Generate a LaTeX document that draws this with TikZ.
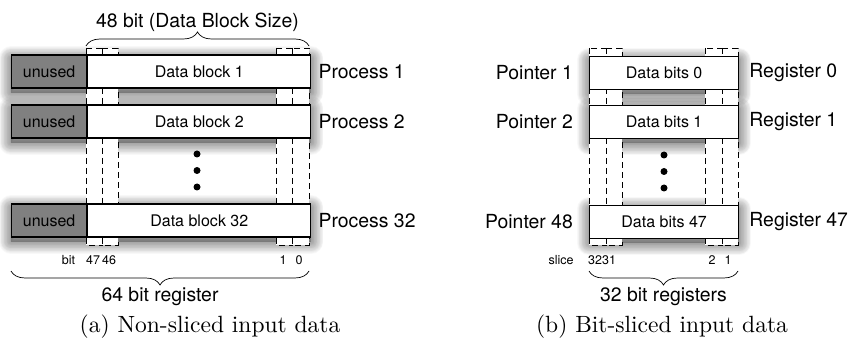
\documentclass[tikz,border=0pt]{standalone}
\usepackage{fontspec}
\setsansfont{TeX Gyre Heros}
\newfontfamily\capfont{lmroman10-regular}[Extension=.otf]
\usetikzlibrary{positioning, calc, decorations.pathreplacing}
\pgfdeclarelayer{background}
\pgfsetlayers{background,main}

\tikzset{
    block/.style={draw, line width=1.2pt, fill=white, minimum height=33pt, inner sep=0pt,
        font=\sffamily\fontsize{16}{16}\selectfont},
    unusedbox/.style={block, fill=black!50, minimum width=75pt},
    biglabel/.style={font=\sffamily\fontsize{19.4}{20}\selectfont, inner sep=0pt},
    smalllabel/.style={font=\sffamily\fontsize{12.5}{13}\selectfont, inner sep=0pt},
    subcap/.style={font=\capfont\fontsize{23.5}{25}\selectfont, inner sep=0pt},
    stripe/.style={draw, dash pattern=on 6pt off 4pt, line width=0.6pt, fill=white},
    bitbrace/.style={decorate, decoration={brace, amplitude=14pt}, line width=0.7pt},
    dot/.style={circle, fill=black, inner sep=0pt, minimum size=7pt}
}

% weicher schatten unter einem kasten (von #1 nach #2)
\newcommand{\castshadow}[2]{%
    \foreach \w in {1.5,3,...,24}
        \draw[black, opacity=0.028, line width=\w pt, line join=round]
            ($(#1.north west)+(0,4)$) rectangle ($(#2.south east)+(0,4)$);
    \fill[black, opacity=0.25] ($(#1.north west)+(0,4)$) rectangle ($(#2.south east)+(0,4)$);
}

\begin{document}
\begin{tikzpicture}[x=1pt, y=-1pt]
    \useasboundingbox (0,0) rectangle (853,347);

    % (a) nicht gesliced
    \node[unusedbox, anchor=west] (u1) at (11,71.5) {unused};
    \node[block, minimum width=223pt, right=0pt of u1] (d1) {Data block 1};
    \node[unusedbox, anchor=west] (u2) at (11,121.5) {unused};
    \node[block, minimum width=223pt, right=0pt of u2] (d2) {Data block 2};
    \node[unusedbox, anchor=west] (u32) at (11,220.5) {unused};
    \node[block, minimum width=223pt, right=0pt of u32] (d32) {Data block 32};

    \node[biglabel, right=7pt of d1] (p1) {Process 1};
    \node[biglabel, right=7pt of d2] (p2) {Process 2};
    \node[biglabel, right=7pt of d32] (p32) {Process 32};

    \node[dot] (ad1) at (197,154) {};
    \node[dot] (ad2) at (197,170.5) {};
    \node[dot] (ad3) at (197,187) {};

    \node[smalllabel] (abit) at (68.5,260) {bit};
    \node[smalllabel] (a47) at (93,260) {47};
    \node[smalllabel] (a46) at (109,260) {46};
    \node[smalllabel] (a1) at (283,260) {1};
    \node[smalllabel] (a0) at (299,260) {0};

    \draw[bitbrace] (86,46) -- (309,46)
        node[biglabel, midway, above=14pt] (asize) {48 bit (Data Block Size)};
    \draw[bitbrace] (309,271) -- (11,271)
        node[biglabel, midway, below=16pt] (areg) {64 bit register};
    \node[subcap] (acap) at (210,327) {(a) Non-sliced input data};

    % (b) bit-sliced
    \node[block, minimum width=149pt, anchor=west] (b0) at (589,73) {Data bits 0};
    \node[block, minimum width=149pt, anchor=west] (b1) at (589,122) {Data bits 1};
    \node[block, minimum width=149pt, anchor=west] (b47) at (589,222) {Data bits 47};

    \node[biglabel, left=16pt of b0] (q1) {Pointer 1};
    \node[biglabel, left=16pt of b1] (q2) {Pointer 2};
    \node[biglabel, left=16pt of b47] (q48) {Pointer 48};
    \node[biglabel, right=10pt of b0] (r0) {Register 0};
    \node[biglabel, right=10pt of b1] (r1) {Register 1};
    \node[biglabel, right=10pt of b47] (r47) {Register 47};

    \node[dot] (bd1) at (664,155) {};
    \node[dot] (bd2) at (664,171.5) {};
    \node[dot] (bd3) at (664,188) {};

    \node[smalllabel] (bslice) at (561,260) {slice};
    \node[smalllabel] (b32) at (595,260) {32};
    \node[smalllabel] (b31) at (609,260) {31};
    \node[smalllabel] (b2) at (712,260) {2};
    \node[smalllabel] (b1x) at (728,260) {1};

    \draw[bitbrace] (738,271) -- (589,271)
        node[biglabel, midway, below=16pt] (breg) {32 bit registers};
    \node[subcap] (bcap) at (662,327) {(b) Bit-sliced input data};

    % schatten und bit-spalten hinter den kaesten
    \begin{pgfonlayer}{background}
        \castshadow{u1}{d1}
        \castshadow{u2}{d2}
        \castshadow{u32}{d32}
        \castshadow{b0}{b0}
        \castshadow{b1}{b1}
        \castshadow{b47}{b47}

        \draw[stripe] (86,48) rectangle (102,245);
        \draw[stripe] (102,48) rectangle (118,245);
        \draw[stripe] (276,48) rectangle (292,245);
        \draw[stripe] (292,48) rectangle (309,245);
        \draw[stripe] (589,48) rectangle (606,245);
        \draw[stripe] (606,48) rectangle (622,245);
        \draw[stripe] (705,48) rectangle (722,245);
        \draw[stripe] (722,48) rectangle (738,245);
    \end{pgfonlayer}
\end{tikzpicture}
\end{document}
